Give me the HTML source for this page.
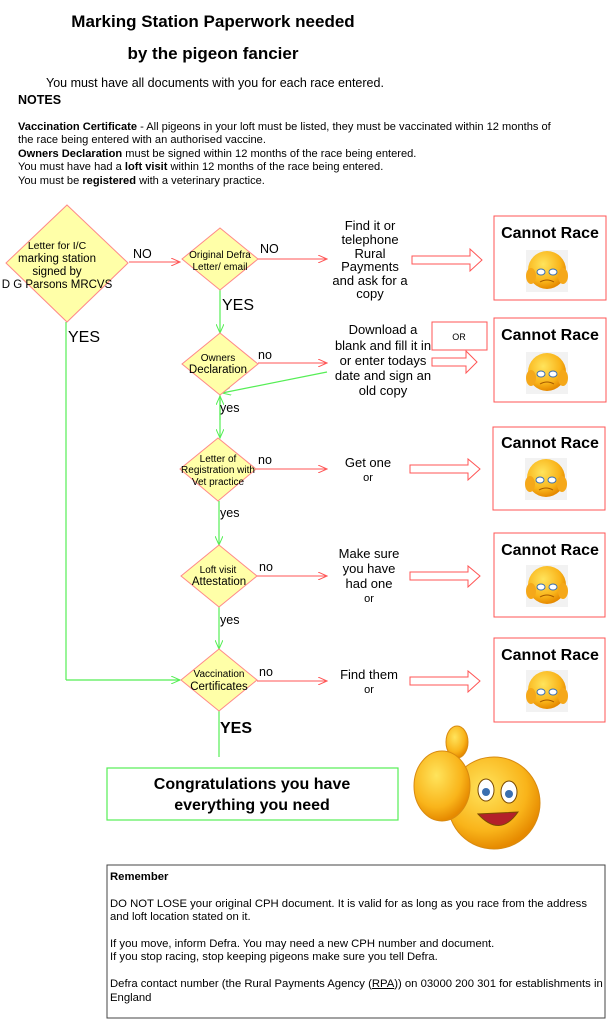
<!DOCTYPE html>
<html><head><meta charset="utf-8"><style>
body{margin:0;background:#fff;width:613px;height:1024px;overflow:hidden;font-family:"Liberation Sans",Arial,sans-serif}
svg{position:absolute;left:0;top:0}
.t{position:absolute;color:#000}
</style></head><body>
<div class="t" style="left:0;width:426px;top:12px;text-align:center;font-weight:bold;font-size:17px">Marking Station Paperwork needed</div>
<div class="t" style="left:0;width:426px;top:44px;text-align:center;font-weight:bold;font-size:17px">by the pigeon fancier</div>
<div class="t" style="left:46px;top:76px;font-size:12.5px">You must have all documents with you for each race entered.</div>
<div class="t" style="left:18px;top:93px;font-size:12.5px;font-weight:bold">NOTES</div>
<div class="t" style="left:18px;top:121px;font-size:11.1px;line-height:13.4px;width:590px"><b>Vaccination Certificate</b> - All pigeons in your loft must be listed, they must be vaccinated within 12 months of<br>the race being entered with an authorised vaccine.<br><b>Owners Declaration</b> must be signed within 12 months of the race being entered.<br>You must have had a <b>loft visit</b> within 12 months of the race being entered.<br>You must be <b>registered</b> with a veterinary practice.</div>

<svg width="613" height="1024" viewBox="0 0 613 1024" font-family="Liberation Sans,Arial,sans-serif">
<defs>
<marker id="ar" markerWidth="10" markerHeight="8" refX="9" refY="4" orient="auto" markerUnits="userSpaceOnUse"><path d="M0,0 L9,4 L0,8" fill="none" stroke="#f55" stroke-width="1"/></marker>
<marker id="ag" markerWidth="10" markerHeight="8" refX="9" refY="4" orient="auto" markerUnits="userSpaceOnUse"><path d="M0,0 L9,4 L0,8" fill="none" stroke="#5e5" stroke-width="1"/></marker>
<radialGradient id="yg" cx="40%" cy="35%" r="65%"><stop offset="0" stop-color="#ffe45c"/><stop offset="0.7" stop-color="#f9b41a"/><stop offset="1" stop-color="#e68a00"/></radialGradient>
<g id="sad"><rect x="-21" y="-20" width="42" height="42" fill="#f2f2f2"/><circle r="19" fill="url(#yg)"/><ellipse cx="-6" cy="2" rx="4" ry="3" fill="#fff" stroke="#3a6fb0"/><ellipse cx="6" cy="2" rx="4" ry="3" fill="#fff" stroke="#3a6fb0"/><path d="M-7,12 Q0,8 7,12" stroke="#a55a00" fill="none"/><ellipse cx="-16" cy="6" rx="5" ry="8" fill="#f5a81a"/><ellipse cx="16" cy="6" rx="5" ry="8" fill="#f5a81a"/></g>
</defs>
<g stroke="#5e5" stroke-width="1.2" fill="none">
<line x1="66" y1="322" x2="66" y2="680"/>
<line x1="66" y1="680" x2="180" y2="680" marker-end="url(#ag)"/>
<line x1="220" y1="290" x2="220" y2="333" marker-end="url(#ag)"/>
<line x1="220" y1="395" x2="220" y2="438" marker-end="url(#ag)"/>
<line x1="220" y1="420" x2="220" y2="396" marker-end="url(#ag)"/>
<line x1="327" y1="372" x2="222" y2="393" marker-end="url(#ag)"/>
<line x1="219" y1="501" x2="219" y2="545" marker-end="url(#ag)"/>
<line x1="219" y1="607" x2="219" y2="649" marker-end="url(#ag)"/>
<line x1="219" y1="711" x2="219" y2="757"/>
<rect x="107" y="768" width="291" height="52"/>
</g>
<g fill="#ffffa8" stroke="#f88" stroke-width="1">
<polygon points="67,205 128,263 67,322 6,263"/>
<polygon points="220,228 258,259 220,290 182,259"/>
<polygon points="220,333 258,364 220,395 182,364"/>
<polygon points="218,438 256,469 218,501 180,469"/>
<polygon points="219,545 257,576 219,607 181,576"/>
<polygon points="219,649 257,680 219,711 181,680"/>
</g>
<g stroke="#f55" stroke-width="1" fill="none">
<line x1="129" y1="262" x2="180" y2="262" marker-end="url(#ar)"/>
<line x1="258" y1="259" x2="327" y2="259" marker-end="url(#ar)"/>
<line x1="258" y1="363" x2="327" y2="363" marker-end="url(#ar)"/>
<line x1="256" y1="469" x2="327" y2="469" marker-end="url(#ar)"/>
<line x1="257" y1="576" x2="327" y2="576" marker-end="url(#ar)"/>
<line x1="257" y1="681" x2="327" y2="681" marker-end="url(#ar)"/>
<rect x="494" y="216" width="112" height="84"/>
<rect x="494" y="318" width="112" height="84"/>
<rect x="493" y="427" width="112" height="83"/>
<rect x="494" y="533" width="111" height="84"/>
<rect x="494" y="638" width="111" height="84"/>
<rect x="432" y="322" width="55" height="28"/>
<path d="M412,256 H470 V249 L482,260 L470,271 V264 H412 Z"/>
<path d="M432,358 H466 V351 L477,362 L466,373 V366 H432 Z"/>
<path d="M410,465 H468 V459 L480,469 L468,480 V473 H410 Z"/>
<path d="M410,572 H468 V566 L480,576 L468,587 V580 H410 Z"/>
<path d="M410,677 H468 V671 L480,681 L468,692 V685 H410 Z"/>
</g>
<g font-size="10.5" text-anchor="middle" fill="#000">
<text x="57" y="249">Letter for I/C</text>
<text x="57" y="262" font-size="11.5">marking station</text>
<text x="57" y="275" font-size="11.5">signed by</text>
<text x="57" y="288" font-size="11.5">D G Parsons MRCVS</text>
<text x="220" y="258" font-size="10">Original Defra</text>
<text x="220" y="270" font-size="10">Letter/ email</text>
<text x="218" y="361" font-size="10">Owners</text>
<text x="218" y="373" font-size="11.5">Declaration</text>
<text x="218" y="462" font-size="10">Letter of</text>
<text x="218" y="473" font-size="10">Registration with</text>
<text x="218" y="485" font-size="10">Vet practice</text>
<text x="218" y="573" font-size="10">Loft visit</text>
<text x="219" y="585" font-size="11.5">Attestation</text>
<text x="219" y="677" font-size="10">Vaccination</text>
<text x="219" y="690" font-size="11.5">Certificates</text>
<text x="459" y="340" font-size="9">OR</text>
</g>
<g font-size="13" text-anchor="middle">
<text x="370" y="230">Find it or</text><text x="370" y="244">telephone</text><text x="370" y="258">Rural</text><text x="370" y="271">Payments</text><text x="370" y="285">and ask for a</text><text x="370" y="298">copy</text>
<text x="383" y="334">Download a</text><text x="383" y="350">blank and fill it in</text><text x="383" y="365">or enter todays</text><text x="383" y="380">date and sign an</text><text x="383" y="395">old copy</text>
<text x="368" y="467">Get one</text><text x="368" y="481" font-size="11">or</text>
<text x="369" y="558">Make sure</text><text x="369" y="573">you have</text><text x="369" y="588">had one</text><text x="369" y="602" font-size="11">or</text>
<text x="369" y="679">Find them</text><text x="369" y="693" font-size="11">or</text>
</g>
<g font-size="12.5">
<text x="133" y="258">NO</text><text x="260" y="253">NO</text>
<text x="258" y="359">no</text><text x="258" y="464">no</text><text x="259" y="571">no</text><text x="259" y="676">no</text>
<text x="220" y="412">yes</text><text x="220" y="517">yes</text><text x="220" y="624">yes</text>
<text x="222" y="310" font-size="16">YES</text><text x="68" y="342" font-size="16">YES</text>
<text x="220" y="733" font-size="16" font-weight="bold">YES</text>
</g>
<g font-size="16" font-weight="bold" text-anchor="middle">
<text x="550" y="238">Cannot Race</text><text x="550" y="340">Cannot Race</text><text x="550" y="448">Cannot Race</text><text x="550" y="555">Cannot Race</text><text x="550" y="660">Cannot Race</text>
<text x="252" y="789">Congratulations you have</text><text x="252" y="810">everything you need</text>
</g>
<use href="#sad" x="547" y="270"/><use href="#sad" x="547" y="372"/><use href="#sad" x="546" y="478"/><use href="#sad" x="547" y="585"/><use href="#sad" x="547" y="690"/>
<circle cx="494" cy="803" r="46" fill="url(#yg)" stroke="#d88a10"/>
<ellipse cx="457" cy="742" rx="11" ry="16" fill="url(#yg)" stroke="#d88a10"/>
<ellipse cx="442" cy="786" rx="28" ry="35" fill="url(#yg)" stroke="#d88a10"/>
<ellipse cx="486" cy="790" rx="8" ry="11" fill="#fff" stroke="#7a4a00"/><circle cx="486" cy="792" r="4" fill="#3a6fb0"/>
<ellipse cx="509" cy="792" rx="8" ry="11" fill="#fff" stroke="#7a4a00"/><circle cx="509" cy="794" r="4" fill="#3a6fb0"/>
<path d="M478,814 Q500,838 518,812 Z" fill="#b3202a" stroke="#7a4a00"/>
<rect x="107" y="865" width="498" height="153" fill="none" stroke="#444"/>
</svg>
<div class="t" style="left:110px;top:871px;width:494px;font-size:11.3px;line-height:13.4px"><b>Remember</b><br><br>DO NOT LOSE your original CPH document. It is valid for as long as you race from the address and loft location stated on it.<br><br>If you move, inform Defra. You may need a new CPH number and document.<br>If you stop racing, stop keeping pigeons make sure you tell Defra.<br><br>Defra contact number (the Rural Payments Agency (<u>RPA</u>)) on 03000 200 301 for establishments in England</div>
</body></html>
